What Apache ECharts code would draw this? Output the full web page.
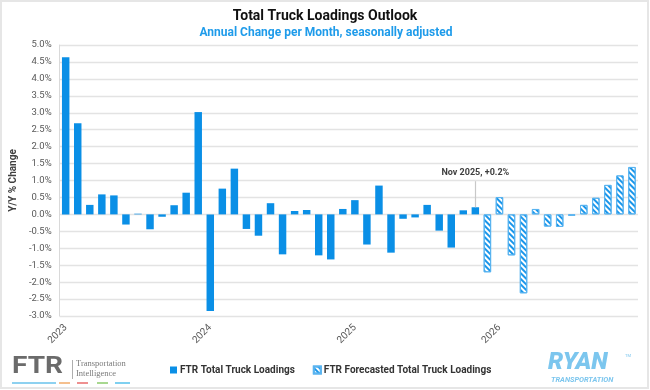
<!DOCTYPE html>
<html><head><meta charset="utf-8">
<script src="https://cdn.jsdelivr.net/npm/echarts@6/dist/echarts.min.js"></script>
<style>html,body{margin:0;padding:0;background:#fff}#c{width:650px;height:390px}</style>
</head><body><div id="c"></div>
<script>
const months = ['Jan','Feb','Mar','Apr','May','Jun','Jul','Aug','Sep','Oct','Nov','Dec'];
const years = ['2023','2024','2025','2026'];
const categories = [];
years.forEach(y => months.forEach(m => categories.push(m + ' ' + y)));

// Actual: Jan 2023 - Nov 2025
const actual2023 = [4.64, 2.69, 0.28, 0.59, 0.56, -0.30, 0.02, -0.44, -0.07, 0.27, 0.64, 3.02];
const actual2024 = [-2.85, 0.76, 1.35, -0.43, -0.63, 0.33, -1.18, 0.10, 0.13, -1.21, -1.33, 0.16];
const actual2025 = [0.42, -0.89, 0.85, -1.13, -0.13, -0.09, 0.28, -0.48, -0.98, 0.12, 0.21];
// Forecast: Dec 2025 - Dec 2026
const forecastDec2025 = [-1.71];
const forecast2026 = [0.51, -1.21, -2.33, 0.16, -0.36, -0.37, -0.04, 0.28, 0.49, 0.87, 1.15, 1.40];

const yTicks = { min: -3, max: 5, interval: 0.5 };
const annotation = { category: 'Nov 2025', text: 'Nov 2025, +0.2%', value: 0.21, labelValue: 0.98 };

const actualVals = [...actual2023, ...actual2024, ...actual2025];
const forecastVals = [...forecastDec2025, ...forecast2026];
const actualData = categories.map((c, i) => i < actualVals.length ? actualVals[i] : null);
const forecastData = categories.map((c, i) => i >= actualVals.length ? forecastVals[i - actualVals.length] : null);

const BLUE = '#0A8FE6';
const FONT = 'Roboto, "Liberation Sans", sans-serif';

const chart = echarts.init(document.getElementById('c'), null, { renderer: 'canvas' });
chart.setOption({
  animation: false,
  backgroundColor: '#fff',
  textStyle: { fontFamily: FONT },
  title: [
    { text: 'Total Truck Loadings Outlook', left: 320, textAlign: 'center', top: 4,
      textStyle: { fontSize: 14, fontWeight: 'bold', color: '#111', fontFamily: FONT } },
    { text: 'Annual Change per Month, seasonally adjusted', left: 321, textAlign: 'center', top: 22,
      textStyle: { fontSize: 12, fontWeight: 'bold', color: '#1E9BEA', fontFamily: FONT } }
  ],
  grid: { left: 49, right: 12, top: 45, bottom: 74, containLabel: false },
  legend: {
    left: 165, bottom: 10, itemWidth: 7, itemHeight: 7, itemGap: 18, icon: 'rect',
    textStyle: { fontSize: 10, color: '#333', fontWeight: 'bold', fontFamily: FONT, padding: [0, 0, 0, -2] },
    data: ['FTR Total Truck Loadings', 'FTR Forecasted Total Truck Loadings']
  },
  xAxis: {
    type: 'category', data: categories,
    axisLine: { show: false }, axisTick: { show: false },
    axisLabel: {
      interval: (i) => i % 12 === 0, rotate: 45, color: '#595959', fontSize: 10, margin: 10,
      formatter: (v) => v.split(' ')[1]
    },
    splitLine: { show: false }
  },
  yAxis: {
    type: 'value', min: yTicks.min, max: yTicks.max, interval: yTicks.interval,
    name: 'Y/Y % Change', nameLocation: 'middle', nameGap: 34, nameRotate: 90,
    nameTextStyle: { fontSize: 10, fontWeight: 'bold', color: '#404040' },
    axisLine: { show: true, lineStyle: { color: '#d9d9d9', width: 1 } },
    axisTick: { show: false },
    axisLabel: { color: '#595959', fontSize: 9.5, margin: 8, formatter: (v) => v.toFixed(1) + '%' },
    splitLine: { lineStyle: { color: '#e3e3e3', width: 1.3 } }
  },
  series: [
    {
      name: 'FTR Total Truck Loadings', type: 'bar', data: actualData, barWidth: '62%', barGap: '-100%',
      itemStyle: { color: BLUE },
      markLine: {
        silent: true, symbol: 'none',
        lineStyle: { color: '#c8c8c8', width: 1.2, type: 'solid' },
        label: { show: true, position: 'end', formatter: annotation.text, fontSize: 9, fontWeight: 'bold', color: '#404040', distance: 4 },
        data: [[{ coord: [annotation.category, annotation.value] }, { coord: [annotation.category, annotation.labelValue] }]]
      }
    },
    {
      name: 'FTR Forecasted Total Truck Loadings', type: 'bar', data: forecastData, barWidth: '62%', barGap: '-100%',
      itemStyle: {
        color: '#ffffff', borderColor: '#5AB4F0', borderWidth: 1,
        decal: { symbol: 'rect', symbolSize: 1, dashArrayX: [1, 0], dashArrayY: [2, 2], rotation: Math.PI / 4, color: '#1A96EA' }
      }
    }
  ],
  graphic: [
    { type: 'rect', shape: { x: 1, y: 1, width: 647, height: 387 }, style: { fill: 'none', stroke: '#e6e6e6', lineWidth: 2 }, silent: true, z: -1 },
    { type: 'text', x: 12, y: 356, scaleX: 1.22, style: { text: 'FTR', font: 'bold 23px Roboto', fill: '#6b6b6b' } },
    { type: 'rect', shape: { x: 72, y: 360, width: 0.8, height: 19 }, style: { fill: '#9a9a9a' } },
    { type: 'text', left: 76, top: 359, style: { text: 'Transportation', font: '8.5px "Liberation Serif"', fill: '#7a7a7a' } },
    { type: 'text', left: 76, top: 369, style: { text: 'Intelligence', font: '8.5px "Liberation Serif"', fill: '#7a7a7a' } },
    { type: 'rect', shape: { x: 12, y: 382, width: 44, height: 2 }, style: { fill: '#8ED1F0' } },
    { type: 'rect', shape: { x: 59, y: 382, width: 11, height: 2 }, style: { fill: '#F5C08F' } },
    { type: 'rect', shape: { x: 77, y: 382, width: 11, height: 2 }, style: { fill: '#EE9090' } },
    { type: 'rect', shape: { x: 97, y: 382, width: 11, height: 2 }, style: { fill: '#A8D890' } },
    { type: 'rect', shape: { x: 115, y: 382, width: 15, height: 2 }, style: { fill: '#7FD0F0' } },
    { type: 'text', x: 548, y: 351, scaleX: 1.0, style: { text: 'RYAN', font: 'italic 900 24px Roboto', fill: '#7CC6EE' } },
    { type: 'text', left: 625, top: 354, style: { text: 'TM', font: '4px Roboto', fill: '#7CC6EE' } },
    { type: 'text', x: 551, y: 376, scaleX: 0.95, style: { text: 'TRANSPORTATION', font: 'italic bold 7.8px Roboto', fill: '#7CC6EE' } }
  ]
});
</script></body></html>
